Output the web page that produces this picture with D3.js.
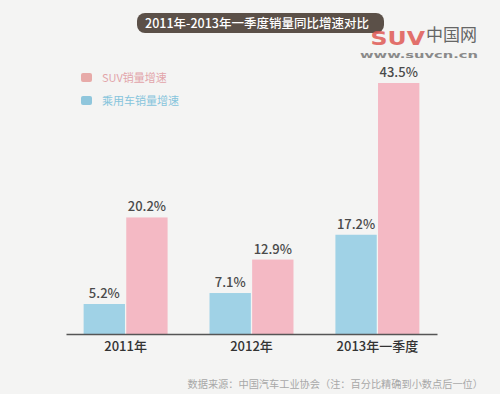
<!DOCTYPE html>
<html><head><meta charset="utf-8">
<script src="https://cdn.jsdelivr.net/npm/d3@7"></script>
<style>
html,body{margin:0;padding:0;background:#f4f4f3;}
svg{display:block;font-family:"Noto Sans CJK SC","Noto Sans",sans-serif;}
</style></head><body>
<svg id="c" width="500" height="394"></svg>
<script>
const categories = ["2011年", "2012年", "2013年一季度"];
const seriesNames = ["乘用车销量增速", "SUV销量增速"];
const carGrowth = [5.2, 7.1, 17.2];
const suvGrowth = [20.2, 12.9, 43.5];
const titleText = "2011年-2013年一季度销量同比增速对比";
const sourceText = "数据来源：中国汽车工业协会（注：百分比精确到小数点后一位）";
const colors = ["#a0d2e6", "#f4b9c4"];
const legendTextColors = ["#86c4dc", "#e2a4aa"];

const svg = d3.select("#c");
svg.append("rect").attr("width",500).attr("height",394).attr("fill","#f4f4f3");

const baseY = 334;
const y = d3.scaleLinear().domain([0, 43.5]).range([baseY, 83]);
const x0 = d3.scaleBand().domain(categories).range([66, 437]).paddingInner(0.333).paddingOuter(0.14);
const x1 = d3.scaleBand().domain([0,1]).range([0, x0.bandwidth()]).paddingInner(0.03);

const data = categories.map((c,i)=>({cat:c, vals:[carGrowth[i], suvGrowth[i]]}));

const g = svg.append("g");
const groups = g.selectAll("g.grp").data(data).join("g").attr("transform", d=>`translate(${x0(d.cat)},0)`);
groups.selectAll("rect").data(d=>d.vals.map((v,j)=>({v,j}))).join("rect")
  .attr("x", d=>x1(d.j)).attr("width", x1.bandwidth())
  .attr("y", d=>y(d.v)).attr("height", d=>baseY - y(d.v))
  .attr("fill", d=>colors[d.j]);
groups.selectAll("text").data(d=>d.vals.map((v,j)=>({v,j}))).join("text")
  .attr("x", d=>x1(d.j)+x1.bandwidth()/2).attr("y", d=>y(d.v)-6)
  .attr("text-anchor","middle").attr("font-size",13).attr("font-weight",500).attr("fill","#4a4a4a")
  .text(d=>d.v.toFixed(1)+"%");

// axis
const ax = svg.append("g").attr("transform",`translate(0,${baseY})`)
  .call(d3.axisBottom(x0).tickSize(0).tickSizeOuter(0).tickPadding(8));
ax.select(".domain").attr("stroke","#555").attr("stroke-width",1.5);
ax.selectAll("text").attr("font-size",13).attr("font-weight",500).attr("fill","#333")
  .attr("font-family",'"Noto Sans CJK SC",sans-serif');

// title pill
svg.append("rect").attr("x",137).attr("y",13).attr("width",247).attr("height",20).attr("rx",8)
  .attr("fill","#5b5048");
const title = svg.append("text").attr("x",257).attr("y",28).attr("text-anchor","middle")
  .attr("font-size",12.5).attr("font-weight",500).attr("fill","#fff").text(titleText);
const tb = title.node().getBBox();
const titleEnd = tb.x + tb.width;

// watermark
const wm = svg.append("g");
const suvX = Math.max(360, titleEnd + 1.5);
wm.append("text").attr("x",suvX).attr("y",45).attr("font-size",20).attr("font-weight","bold")
  .attr("fill","#e05a55").attr("opacity",0.85).attr("textLength",425 - suvX).attr("lengthAdjust","spacingAndGlyphs")
  .attr("font-family","'DejaVu Sans',sans-serif").text("SUV");
wm.append("text").attr("x",426).attr("y",41).attr("font-size",17).attr("fill","#666")
  .text("中国网");
wm.append("text").attr("x",360).attr("y",58).attr("font-size",8).attr("font-weight","bold")
  .attr("fill","#8a8a8a").attr("textLength",118).attr("lengthAdjust","spacingAndGlyphs")
  .attr("font-family","'DejaVu Sans',sans-serif").text("www.suvcn.cn");

// legend
const legOrder = [1,0];
legOrder.forEach((j,k)=>{
  const ly = 73 + k*23;
  svg.append("rect").attr("x",81).attr("y",ly).attr("width",11).attr("height",9).attr("rx",2)
    .attr("fill", j===1 ? "#e7aaa8" : "#8fc6dc");
  svg.append("text").attr("x",102).attr("y",ly+9).attr("font-size",11)
    .attr("fill",legendTextColors[j]).text(seriesNames[j]);
});

// source
svg.append("text").attr("x",483).attr("y",388).attr("text-anchor","end").attr("font-size",10.2)
  .attr("fill","#a8a8a8").text(sourceText);
</script></body></html>
